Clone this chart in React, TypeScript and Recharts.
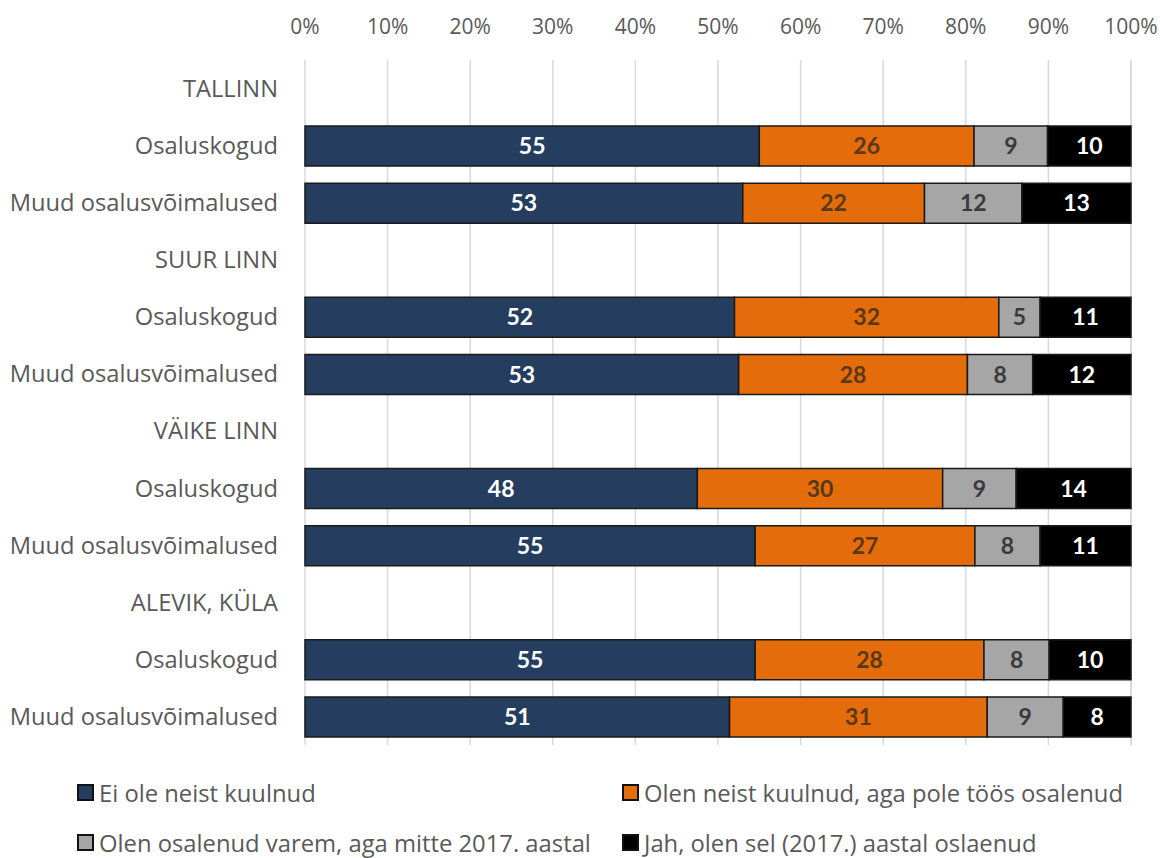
import { BarChart, Bar, XAxis, YAxis, CartesianGrid, LabelList } from 'recharts'

const ROW_LABELS = [
  'TALLINN',
  'Osaluskogud',
  'Muud osalusvõimalused',
  'SUUR LINN',
  'Osaluskogud',
  'Muud osalusvõimalused',
  'VÄIKE LINN',
  'Osaluskogud',
  'Muud osalusvõimalused',
  'ALEVIK, KÜLA',
  'Osaluskogud',
  'Muud osalusvõimalused',
]

// null = group header row (no bar)
const notHeard = [null, 55, 53, null, 52, 52.5, null, 47.5, 54.5, null, 54.5, 51.4]
const heardNotJoined = [null, 26, 22, null, 32, 27.7, null, 29.7, 26.6, null, 27.7, 31.2]
const joinedBefore = [null, 8.9, 11.8, null, 5, 7.9, null, 8.9, 7.9, null, 7.9, 9.2]
const joinedThisYear = [null, 10.1, 13.2, null, 11, 11.9, null, 13.9, 11, null, 9.9, 8.2]

const X_TICKS = [0, 10, 20, 30, 40, 50, 60, 70, 80, 90, 100]

const SERIES = [
  { key: 'a', name: 'Ei ole neist kuulnud', values: notHeard, fill: '#253e5f', labelColor: '#ffffff' },
  { key: 'b', name: 'Olen neist kuulnud, aga pole töös osalenud', values: heardNotJoined, fill: '#e46c0a', labelColor: '#5a3818' },
  { key: 'c', name: 'Olen osalenud varem, aga mitte 2017. aastal', values: joinedBefore, fill: '#a6a6a6', labelColor: '#3a3a3a' },
  { key: 'd', name: 'Jah, olen sel (2017.) aastal oslaenud', values: joinedThisYear, fill: '#000000', labelColor: '#ffffff' },
]

const FONT = '"Open Sans", Lato, sans-serif'
const LABEL_FONT = 'Lato, "Open Sans", sans-serif'
const TEXT = '#595959'

const data = ROW_LABELS.map((label, i) => {
  const row: Record<string, number | string | null> = { row: i, label }
  SERIES.forEach((s) => {
    row[s.key] = s.values[i]
  })
  return row
})

const fmt = (v: unknown) => (v == null || v === '' ? '' : String(Math.round(Number(v))))

export default function App() {
  return (
    <div
      style={{
        position: 'absolute',
        top: 0,
        left: 0,
        width: 1160,
        height: 858,
        overflow: 'hidden',
        background: '#fff',
        fontFamily: FONT,
      }}
    >
      <BarChart
        width={1160}
        height={760}
        data={data}
        layout="vertical"
        barCategoryGap={0}
        margin={{ top: 0, right: 29, bottom: 15, left: 0 }}
      >
        <CartesianGrid horizontal={false} stroke="#d9d9d9" strokeWidth={1.5} />
        <XAxis
          type="number"
          orientation="top"
          domain={[0, 100]}
          ticks={X_TICKS}
          tickFormatter={(v) => `${v}%`}
          axisLine={false}
          tickLine={false}
          tickSize={0}
          tickMargin={26}
          height={60}
          tick={{ fill: TEXT, fontSize: 21, fontFamily: FONT }}
          interval={0}
        />
        <YAxis
          type="category"
          dataKey="row"
          width={305}
          axisLine={false}
          tickLine={false}
          tickSize={0}
          tickMargin={27}
          interval={0}
          tickFormatter={(v) => ROW_LABELS[Number(v)]}
          tick={{ fill: TEXT, fontSize: 23.7, fontFamily: FONT }}
        />
        {SERIES.map((s) => (
          <Bar
            key={s.key}
            dataKey={s.key}
            name={s.name}
            stackId="x"
            fill={s.fill}
            stroke="#1a1a1a"
            strokeWidth={1.5}
            barSize={40}
            isAnimationActive={false}
          >
            <LabelList
              dataKey={s.key}
              position="center"
              formatter={fmt}
              fill={s.labelColor}
              fontSize={23}
              fontWeight={700}
              fontFamily={LABEL_FONT}
            />
          </Bar>
        ))}
      </BarChart>
      <div
        style={{
          position: 'absolute',
          top: 775,
          left: 77,
          display: 'grid',
          gridTemplateColumns: '545px 520px',
          rowGap: 15,
          color: TEXT,
          fontSize: 23.8,
        }}
      >
        {SERIES.map((s) => (
          <div key={s.key} style={{ display: 'flex', alignItems: 'center', height: 35, whiteSpace: 'nowrap' }}>
            <span
              style={{
                display: 'inline-block',
                width: 13,
                height: 13,
                background: s.fill,
                border: '2px solid #111',
                marginRight: 5,
              }}
            />
            {s.name}
          </div>
        ))}
      </div>
    </div>
  )
}
